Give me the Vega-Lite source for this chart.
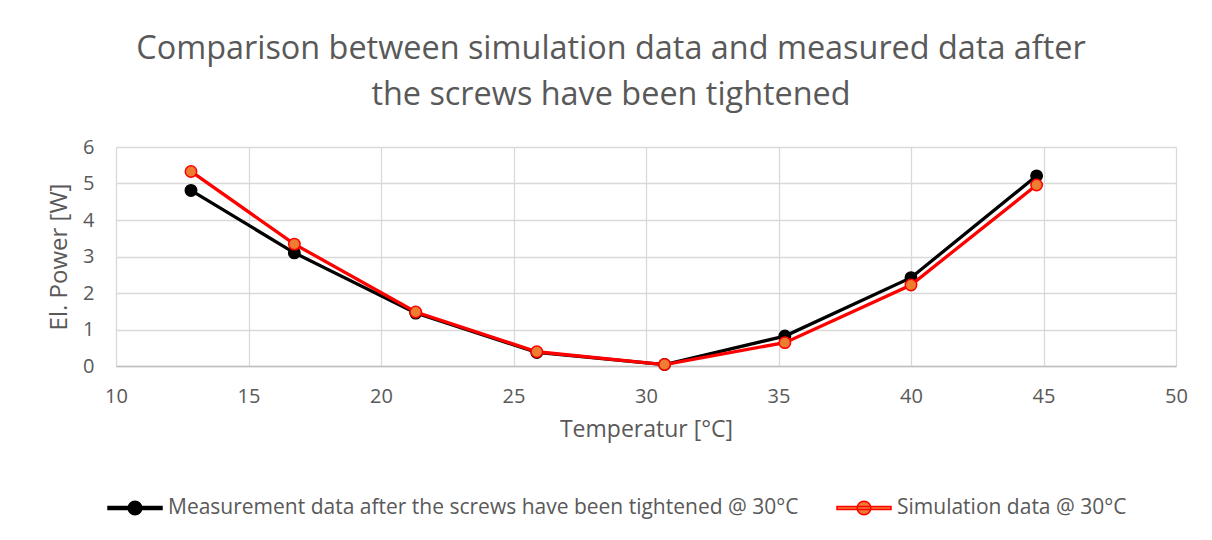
{
  "$schema": "https://vega.github.io/schema/vega-lite/v6.json",
  "width": 1060,
  "height": 219,
  "autosize": {"type": "none"},
  "padding": {"left": 116, "top": 147, "right": 36, "bottom": 174},
  "background": "white",
  "title": {
    "text": ["Comparison between simulation data and measured data after", "the screws have been tightened"],
    "fontSize": 32.4,
    "font": "Open Sans",
    "fontWeight": "normal",
    "color": "#595959",
    "lineHeight": 46,
    "anchor": "middle",
    "dx": -35,
    "offset": 26
  },
  "data": {
    "values": [
      {"series": "Measurement data after the screws have been tightened @ 30°C", "t": 12.83, "p": 4.81},
      {"series": "Measurement data after the screws have been tightened @ 30°C", "t": 16.73, "p": 3.10},
      {"series": "Measurement data after the screws have been tightened @ 30°C", "t": 21.31, "p": 1.45},
      {"series": "Measurement data after the screws have been tightened @ 30°C", "t": 25.88, "p": 0.37},
      {"series": "Measurement data after the screws have been tightened @ 30°C", "t": 30.7, "p": 0.04},
      {"series": "Measurement data after the screws have been tightened @ 30°C", "t": 35.24, "p": 0.82},
      {"series": "Measurement data after the screws have been tightened @ 30°C", "t": 40.0, "p": 2.42},
      {"series": "Measurement data after the screws have been tightened @ 30°C", "t": 44.74, "p": 5.21},
      {"series": "Simulation data @ 30°C", "t": 12.83, "p": 5.33},
      {"series": "Simulation data @ 30°C", "t": 16.73, "p": 3.34},
      {"series": "Simulation data @ 30°C", "t": 21.31, "p": 1.48},
      {"series": "Simulation data @ 30°C", "t": 25.88, "p": 0.39},
      {"series": "Simulation data @ 30°C", "t": 30.7, "p": 0.04},
      {"series": "Simulation data @ 30°C", "t": 35.24, "p": 0.64},
      {"series": "Simulation data @ 30°C", "t": 40.0, "p": 2.22},
      {"series": "Simulation data @ 30°C", "t": 44.74, "p": 4.96}
    ]
  },
  "encoding": {
    "x": {
      "field": "t", "type": "quantitative",
      "scale": {"domain": [10, 50], "nice": false, "zero": false},
      "axis": {"values": [10, 15, 20, 25, 30, 35, 40, 45, 50], "title": "Temperatur [°C]", "titlePadding": 12, "labelPadding": 20, "labelFlush": false}
    },
    "y": {
      "field": "p", "type": "quantitative",
      "scale": {"domain": [0, 6], "nice": false},
      "axis": {"values": [0, 1, 2, 3, 4, 5, 6], "title": "El. Power [W]", "titleFontSize": 24, "titlePadding": 11, "labelPadding": 22, "domain": false, "labelFlush": false}
    },
    "stroke": {
      "field": "series", "type": "nominal",
      "scale": {"domain": ["Measurement data after the screws have been tightened @ 30°C", "Simulation data @ 30°C"], "range": ["#000000", "#FF0000"]},
      "legend": {"title": null}
    }
  },
  "layer": [
    {
      "transform": [{"filter": "datum.series !== 'Simulation data @ 30°C'"}],
      "mark": {"type": "line", "strokeWidth": 3.3}
    },
    {
      "transform": [{"filter": "datum.series !== 'Simulation data @ 30°C'"}],
      "mark": {"type": "point", "filled": true, "size": 130, "strokeWidth": 1.5, "opacity": 1},
      "encoding": {
        "fill": {"field": "series", "type": "nominal", "scale": {"domain": ["Measurement data after the screws have been tightened @ 30°C", "Simulation data @ 30°C"], "range": ["#000000", "#ED7D31"]}, "legend": {"title": null}}
      }
    },
    {
      "transform": [{"filter": "datum.series === 'Simulation data @ 30°C'"}],
      "mark": {"type": "line", "strokeWidth": 3.3}
    },
    {
      "transform": [{"filter": "datum.series === 'Simulation data @ 30°C'"}],
      "mark": {"type": "point", "filled": true, "size": 130, "strokeWidth": 1.5, "opacity": 1},
      "encoding": {
        "fill": {"field": "series", "type": "nominal", "scale": {"domain": ["Measurement data after the screws have been tightened @ 30°C", "Simulation data @ 30°C"], "range": ["#000000", "#ED7D31"]}, "legend": {"title": null}}
      }
    }
  ],
  "config": {
    "font": "Open Sans",
    "view": {"stroke": null},
    "axis": {
      "labelFont": "Open Sans", "labelFontSize": 20, "labelColor": "#595959",
      "titleFont": "Open Sans", "titleFontSize": 23, "titleColor": "#595959", "titleFontWeight": "normal",
      "gridColor": "#D9D9D9", "gridWidth": 1.3, "ticks": false,
      "domainColor": "#BFBFBF", "domainWidth": 1.3
    },
    "legend": {
      "orient": "none",
      "legendX": 0,
      "legendY": 342,
      "direction": "horizontal",
      "labelFont": "Open Sans", "labelFontSize": 21, "labelColor": "#595959", "labelLimit": 1000,
      "symbolType": "M-1.5,-0.09 H1.5 V0.09 H-1.5 Z M-0.38,0 A0.38,0.38 0 1,1 0.38,0 A0.38,0.38 0 1,1 -0.38,0 Z",
      "symbolSize": 1296,
      "symbolStrokeWidth": 1.5,
      "labelOffset": 14,
      "columnPadding": 35
    }
  }
}
